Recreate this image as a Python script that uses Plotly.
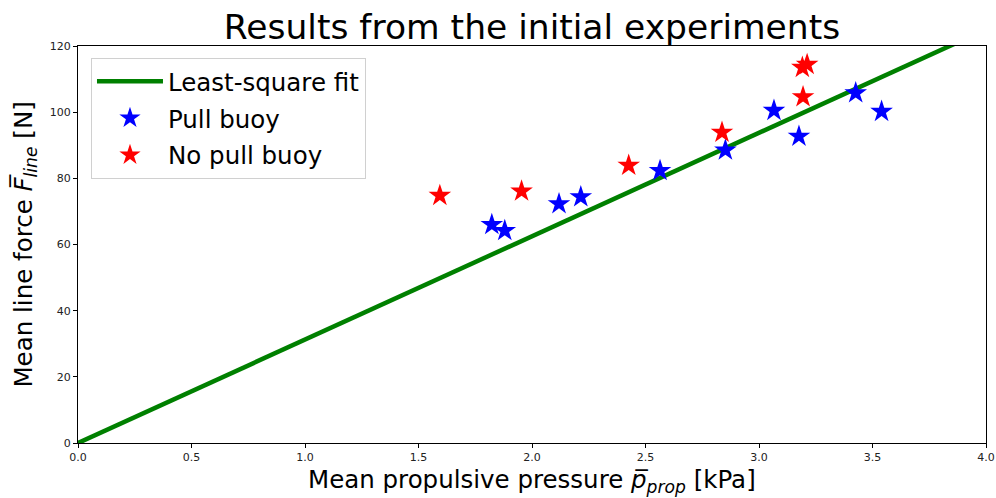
import plotly.graph_objects as go

# Data
pull_x = [1.823, 1.880, 2.119, 2.215, 2.564, 2.852, 3.066, 3.176, 3.426, 3.540]
pull_y = [66.0, 64.2, 72.3, 74.4, 82.3, 88.5, 100.5, 92.7, 105.8, 100.2]

nopull_x = [1.594, 1.954, 2.426, 2.837, 3.194, 3.191, 3.212]
nopull_y = [74.8, 76.1, 83.9, 93.9, 104.6, 113.5, 114.4]

fit_x = [0.0, 4.0]
fit_y = [0.0, 125.0]

x_ticks = [0.0, 0.5, 1.0, 1.5, 2.0, 2.5, 3.0, 3.5, 4.0]
y_ticks = [0, 20, 40, 60, 80, 100, 120]

FONT = "DejaVu Sans"

fig = go.Figure()
fig.add_trace(go.Scatter(x=fit_x, y=fit_y, mode="lines", name="Least-square fit",
                         line=dict(color="#008000", width=4.5), legendgroup="a"))
fig.add_trace(go.Scatter(x=pull_x, y=pull_y, mode="markers", name="Pull buoy",
                         marker=dict(symbol="star", size=17, color="#0000ff",
                                     line=dict(width=0)), legendgroup="b"))
fig.add_trace(go.Scatter(x=nopull_x, y=nopull_y, mode="markers", name="No pull buoy",
                         marker=dict(symbol="star", size=17, color="#ff0000",
                                     line=dict(width=0)), legendgroup="c"))

axis_common = dict(showline=True, mirror=True, linecolor="black", linewidth=1,
                   ticks="outside", ticklen=4, tickcolor="black", showgrid=False,
                   zeroline=False, tickfont=dict(family=FONT, size=11, color="#222"))

fig.update_layout(
    width=996, height=498,
    margin=dict(l=78, r=10, t=46, b=55, autoexpand=False),
    paper_bgcolor="white", plot_bgcolor="white",
    font=dict(family=FONT, color="black"),
    title=dict(text="Results from the initial experiments", x=0.5, xanchor="center",
               xref="paper", y=1 - 27 / 498, yref="container", yanchor="middle",
               font=dict(family=FONT, size=34.5, color="black")),
    xaxis=dict(range=[0, 4], tickvals=x_ticks, tickformat=".1f", **axis_common),
    yaxis=dict(range=[0, 120], tickvals=y_ticks, **axis_common),
    showlegend=True,
    legend=dict(x=0.0143, y=0.9705, xanchor="left", yanchor="top",
                bgcolor="rgba(255,255,255,0.8)", bordercolor="#d0d0d0", borderwidth=1,
                font=dict(family=FONT, size=24.5, color="black"),
                tracegroupgap=2, itemwidth=66),
    annotations=[
        dict(text="Mean propulsive pressure <i>p\u0305</i><sub><i>prop</i></sub> [kPa]",
             xref="paper", yref="paper", x=0.5, y=(443.3 - 481) / 397,
             xanchor="center", yanchor="middle", showarrow=False,
             font=dict(family=FONT, size=24.5, color="black")),
        dict(text="Mean line force <i>F\u0305</i><sub><i>line</i></sub> [N]",
             xref="paper", yref="paper", x=(25 - 78) / 908.5, y=0.5,
             xanchor="center", yanchor="middle", showarrow=False, textangle=-90,
             font=dict(family=FONT, size=24.5, color="black")),
    ],
)

fig.write_html("out.html")
